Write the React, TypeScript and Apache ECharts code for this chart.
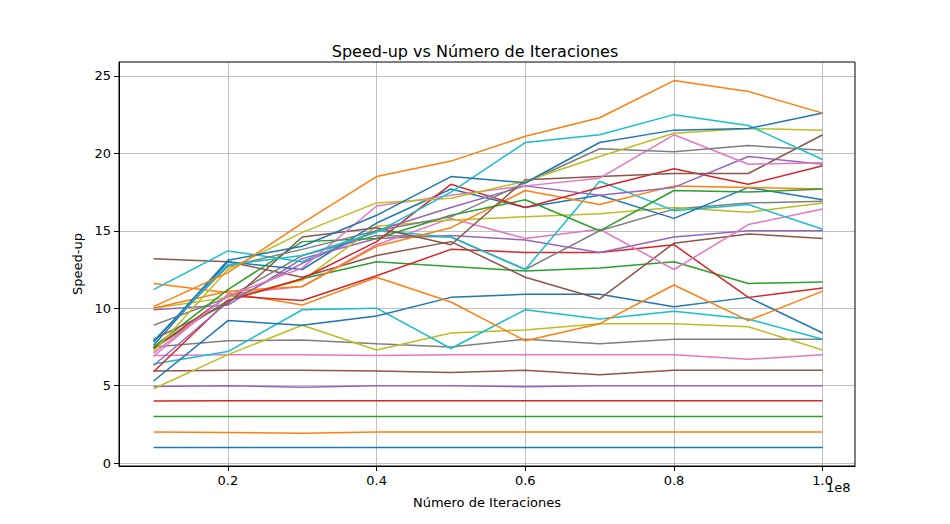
import { useRef, useEffect } from "react";
import * as echarts from "echarts";

const xValues = [0.1, 0.2, 0.3, 0.4, 0.5, 0.6, 0.7, 0.8, 0.9, 1.0];
const xTicks = [0.2, 0.4, 0.6, 0.8, 1.0];
const yTicks = [0, 5, 10, 15, 20, 25];

const speedups: number[][] = [
  [1, 1, 1, 1, 1, 1, 1, 1, 1, 1],
  [2, 1.98, 1.93, 2, 2, 2, 2, 2, 2, 2],
  [3, 3, 3, 3, 3, 3, 3, 3, 3, 3],
  [4, 4.02, 4.02, 4.02, 4.02, 4.02, 4.02, 4.02, 4.02, 4.02],
  [4.95, 5, 4.9, 5, 5, 4.92, 5, 5, 5, 5],
  [5.95, 6, 6, 5.95, 5.85, 6, 5.7, 6, 6, 6],
  [6.95, 7, 7, 6.95, 7, 7, 7, 7, 6.7, 7],
  [7.5, 7.9, 7.95, 7.7, 7.5, 8, 7.7, 8, 8, 8],
  [4.8, 7, 8.9, 7.3, 8.4, 8.6, 9, 9, 8.8, 7.3],
  [6.4, 7.2, 9.9, 10, 7.4, 9.9, 9.3, 9.8, 9.3, 8],
  [5.3, 9.2, 8.9, 9.5, 10.7, 10.9, 10.9, 10.1, 10.7, 8.4],
  [11.6, 11, 10.2, 12, 10.4, 7.9, 9, 11.5, 9.2, 11.1],
  [7.4, 10.5, 11.9, 13, 12.7, 12.4, 12.6, 13, 11.6, 11.7],
  [7.4, 10.8, 10.5, 12.1, 13.8, 13.6, 13.6, 14.1, 10.7, 11.3],
  [9.9, 10.2, 13.2, 14.5, 14.7, 14.4, 13.6, 14.6, 15, 15],
  [13.2, 13, 12, 13.4, 14.3, 12, 10.6, 14.2, 14.8, 14.5],
  [6.9, 10.9, 11.4, 14.1, 15.8, 14.5, 15.1, 12.5, 15.4, 16.4],
  [8.9, 10.7, 13.4, 14.7, 14.6, 12.5, 15, 16.4, 16.8, 16.9],
  [10, 10.7, 11.8, 15.3, 15.7, 15.9, 16.1, 16.5, 16.2, 16.8],
  [11.2, 13.7, 13, 15, 14.6, 12.5, 18.2, 16.3, 16.7, 15.1],
  [7.6, 13, 12.5, 15.5, 17.7, 16.5, 17.3, 15.8, 17.8, 17],
  [10, 11.1, 11.4, 14, 15.2, 17.6, 16.7, 17.9, 17.8, 17.7],
  [7.5, 11.2, 14.3, 14.5, 16, 17, 15, 17.6, 17.5, 17.7],
  [5.9, 10.5, 11.9, 14.3, 18, 16.5, 17.8, 19, 18, 19.2],
  [6.3, 10.4, 12.9, 15, 16.5, 17.9, 17.3, 17.8, 19.8, 19.3],
  [8, 10.3, 14.6, 15.2, 14.1, 18.3, 18.5, 18.7, 18.7, 21.2],
  [7.1, 10.8, 12.6, 16.6, 17.3, 17.9, 18.4, 21.2, 19.3, 19.4],
  [7.9, 12.7, 13.8, 15, 15.9, 18.1, 20.3, 20.1, 20.5, 20.2],
  [7.2, 12.5, 14.9, 16.8, 17.1, 18.2, 19.8, 21.3, 21.6, 21.5],
  [7.9, 12.8, 13.4, 14.9, 17.5, 20.7, 21.2, 22.5, 21.8, 19.6],
  [7.8, 13.1, 14, 16, 18.5, 18.1, 20.7, 21.5, 21.6, 22.6],
  [10.1, 12.3, 15.5, 18.5, 19.5, 21.1, 22.3, 24.7, 24, 22.6],
];

const colors = [
  "#1f77b4", "#ff7f0e", "#2ca02c", "#d62728", "#9467bd",
  "#8c564b", "#e377c2", "#7f7f7f", "#bcbd22", "#17becf",
];

const font = "DejaVu Sans";

const App = () => {
  const chartRef = useRef<HTMLDivElement>(null);

  useEffect(() => {
    if (!chartRef.current) return;
    const chart = echarts.init(chartRef.current, null, { renderer: "svg" });
    const axisCommon = {
      axisLine: { show: true, onZero: false, lineStyle: { color: "#000", width: 1 } },
      axisTick: { show: true, inside: false, length: 5, lineStyle: { color: "#000" } },
      splitLine: { show: true, lineStyle: { color: "#b0b0b0", width: 0.8 } },
      nameTextStyle: { color: "#000", fontSize: 13, fontFamily: font },
    };
    chart.setOption({
      animation: false,
      color: colors,
      textStyle: { fontFamily: font },
      title: {
        text: "Speed-up vs Número de Iteraciones",
        left: "center",
        top: 38,
        textStyle: { fontSize: 16, fontWeight: "normal", color: "#000", fontFamily: font },
      },
      grid: { left: 119, right: 95, top: 62, bottom: 58 },
      xAxis: {
        type: "value",
        min: 0.0535,
        max: 1.0435,
        name: "Número de Iteraciones",
        nameLocation: "middle",
        nameGap: 30,
        ...axisCommon,
        axisTick: { ...axisCommon.axisTick, customValues: xTicks },
        axisLabel: {
          customValues: xTicks,
          color: "#000",
          fontSize: 13,
          fontFamily: font,
          margin: 8,
          formatter: (v: number) => v.toFixed(1),
        },
      },
      yAxis: {
        type: "value",
        min: -0.19,
        max: 25.9,
        name: "Speed-up",
        nameLocation: "middle",
        nameGap: 34,
        ...axisCommon,
        axisTick: { ...axisCommon.axisTick, customValues: yTicks },
        axisLabel: {
          customValues: yTicks,
          color: "#000",
          fontSize: 13,
          fontFamily: font,
          margin: 8,
        },
      },
      graphic: [
        {
          type: "rect",
          shape: { x: 119, y: 62, width: 736, height: 404 },
          style: { fill: "none", stroke: "#000", lineWidth: 1 },
          z: 100,
        },
        {
          type: "text",
          x: 826,
          y: 481,
          style: { text: "1e8", fontSize: 13, fontFamily: font, fill: "#000" },
        },
      ],
      series: speedups.map((vals, i) => ({
        type: "line",
        name: `${i + 1}`,
        showSymbol: false,
        symbol: "none",
        lineStyle: { width: 1.5 },
        data: vals.map((v, j) => [xValues[j], v]),
      })),
    });
    return () => chart.dispose();
  }, []);

  return (
    <div
      ref={chartRef}
      style={{ position: "absolute", left: 0, top: 0, width: 950, height: 524 }}
    ></div>
  );
};

export default App;
